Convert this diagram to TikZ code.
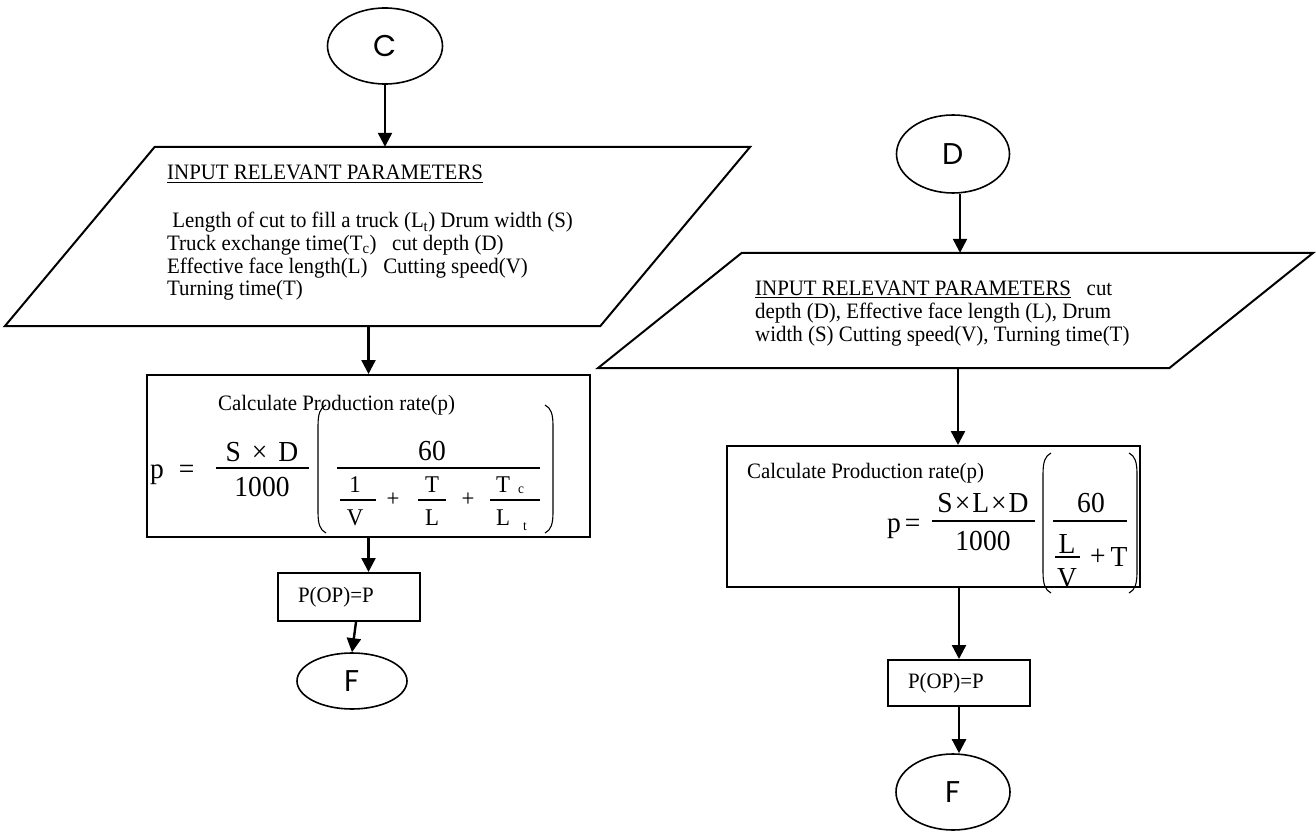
\documentclass[tikz,border=0pt]{standalone}
\usepackage{fontspec}
\setmainfont{Liberation Serif}[FakeStretch=0.95]
\newfontfamily\gothic{Poppins}
\usetikzlibrary{shapes.geometric,arrows.meta,calc}

\begin{document}
\begin{tikzpicture}[x=1pt,y=-1pt,
  every node/.style={inner sep=0pt, font=\fontsize{22}{22}\selectfont},
  term/.style={ellipse, draw, line width=1.6pt, font=\gothic\fontsize{30}{30}\selectfont},
  box/.style={rectangle, draw, line width=2pt},
  frame/.style={rectangle},
  io/.style={line width=2pt, line join=miter},
  arr/.style={line width=2.4pt, -{Triangle[length=14pt,width=14pt]}},
  bar/.style={line width=1.2pt},
  paren/.style={line width=1.1pt},
  big/.style={font=\fontsize{29}{29}\selectfont},
  small/.style={font=\fontsize{24}{24}\selectfont},
  tiny/.style={font=\fontsize{14}{14}\selectfont},
]
\useasboundingbox (0,0) rectangle (1316,834);

% ---------------- left branch ----------------
\node[term, minimum width=115pt, minimum height=76pt] (c) at (385,46) {C};

\node[frame, minimum width=745pt, minimum height=179pt] (in1) at (377.5,236.5) {};
\draw[io] ([xshift=150pt]in1.north west) -- (in1.north east)
  -- ([xshift=-150pt]in1.south east) -- (in1.south west) -- cycle;
\node[anchor=base west] (in1t0) at (167,180) {\underline{INPUT RELEVANT PARAMETERS}};
\node[anchor=base west] (in1t1) at (167,228) {\ Length of cut to fill a truck (L\textsubscript{t}) Drum width (S)};
\node[anchor=base west] (in1t2) at (167,250.5) {Truck exchange time(T\textsubscript{c})\ \ \ cut depth (D)};
\node[anchor=base west] (in1t3) at (167,273) {Effective face length(L)\ \ \ Cutting speed(V)};
\node[anchor=base west] (in1t4) at (167,295.5) {Turning time(T)};

\node[box, minimum width=443pt, minimum height=162pt] (prod1) at (368.5,456) {};
\node[anchor=base west] (prod1t) at (218,410) {Calculate Production rate(p)};

% formula: p = S x D / 1000 ( 60 / (1/V + T/L + Tc/Lt) )
\node[big, anchor=base west] (f1p) at (150,478) {p\hspace{15pt}=};
\node[big] (f1n) at (262,452) {S\hspace{11pt}×\hspace{11pt}D};
\draw[bar] (216,468) -- (309,468);
\node[big] (f1d) at (262,487) {1000};
\draw[paren] (326,405) .. controls (320,408) and (318,414) .. (318,426) -- (318,512)
  .. controls (318,524) and (320,530) .. (326,533);
\draw[paren] (545,405) .. controls (551,408) and (553,414) .. (553,426) -- (553,512)
  .. controls (553,524) and (551,530) .. (545,533);
\node[big] (f1s) at (432,451) {60};
\draw[bar] (337,468) -- (540,468);
\node[small] (f1a1) at (355,485) {1};
\draw[bar] (340,500) -- (376,500);
\node[small] (f1a2) at (355,518) {V};
\node[small] (f1pl1) at (393,500) {+};
\node[small] (f1b1) at (432,485) {T};
\draw[bar] (418,500) -- (446,500);
\node[small] (f1b2) at (432,518) {L};
\node[small] (f1pl2) at (468,500) {+};
\node[small] (f1c1) at (503,485) {T};
\node[tiny] (f1c1s) at (521,490) {c};
\draw[bar] (490,500) -- (540,500);
\node[small] (f1c2) at (503,518) {L};
\node[tiny] (f1c2s) at (525,527) {t};

\node[box, minimum width=142pt, minimum height=48pt, text width=102pt, align=left] (pop1) at (349,597) {P(OP)=P};
\node[term, minimum width=110pt, minimum height=56pt] (f1) at (352,681) {F};

\draw[arr] (c.south) -- (c.south |- in1.north);
\draw[arr] (prod1.north |- in1.south) -- (prod1.north);
\draw[arr] (prod1.south) -- (prod1.south |- pop1.north);
\draw[arr] ([xshift=7pt]pop1.south) -- (f1.north);

% ---------------- right branch ----------------
\node[term, minimum width=113pt, minimum height=78pt] (d) at (953,154) {D};

\node[frame, minimum width=715pt, minimum height=115pt] (in2) at (955.5,310.5) {};
\draw[io] ([xshift=144pt]in2.north west) -- (in2.north east)
  -- ([xshift=-144pt]in2.south east) -- (in2.south west) -- cycle;
\node[anchor=base west] (in2t1) at (755,295) {\underline{INPUT RELEVANT PARAMETERS}\ \ \ cut};
\node[anchor=base west] (in2t2) at (755,318) {depth (D), Effective face length (L), Drum};
\node[anchor=base west] (in2t3) at (755,341) {width (S) Cutting speed(V), Turning time(T)};

\node[box, minimum width=413pt, minimum height=141pt] (prod2) at (933.5,516.5) {};
\node[anchor=base west] (prod2t) at (747,478) {Calculate Production rate(p)};

% formula: p = S x L x D / 1000 ( 60 / (L/V + T) )
\node[big, anchor=base west] (f2p) at (887,532) {p\hspace{4pt}=};
\node[big] (f2n) at (983,503) {S\hspace{2pt}×\hspace{2pt}L\hspace{2pt}×\hspace{2pt}D};
\draw[bar] (932,521) -- (1035,521);
\node[big] (f2d) at (983,541) {1000};
\draw[paren] (1051,453) .. controls (1045,456) and (1043,462) .. (1043,474) -- (1043,572)
  .. controls (1043,584) and (1045,590) .. (1051,593);
\draw[paren] (1129,453) .. controls (1135,456) and (1137,462) .. (1137,474) -- (1137,572)
  .. controls (1137,584) and (1135,590) .. (1129,593);
\node[big] (f2s) at (1091,503) {60};
\draw[bar] (1053,521) -- (1127,521);
\node[big] (f2a1) at (1067,544) {L};
\draw[bar] (1055,557) -- (1080,557);
\node[big] (f2a2) at (1067,578) {V};
\node[big] (f2pl) at (1098,557) {+};
\node[big] (f2b) at (1119,557) {T};

\node[box, minimum width=142pt, minimum height=46pt, text width=102pt, align=left] (pop2) at (959,683) {P(OP)=P};
\node[term, minimum width=114pt, minimum height=76pt] (f2) at (953,792) {F};

\draw[arr] ([xshift=7pt]d.south) -- ([xshift=7pt]d.south |- in2.north);
\draw[arr] ([xshift=2.5pt]in2.south) -- ([xshift=2.5pt]in2.south |- prod2.north);
\draw[arr] (pop2.north |- prod2.south) -- (pop2.north);
\draw[arr] (pop2.south) -- (pop2.south |- f2.north);
\end{tikzpicture}
\end{document}
